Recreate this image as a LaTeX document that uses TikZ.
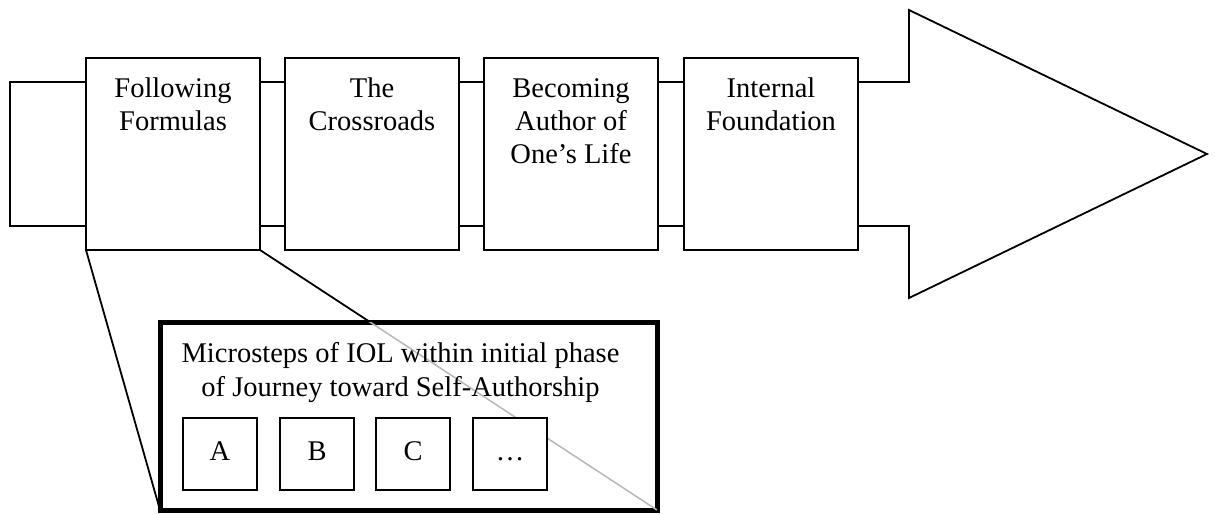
\documentclass[tikz,border=0pt]{standalone}
\usepackage{fontspec}
\setmainfont{Liberation Serif}
\begin{document}
\begin{tikzpicture}[x=1pt,y=-1pt,
  thin line/.style={line width=1.8pt},
  phase/.style={draw, thin line, fill=white, minimum width=174pt,
    minimum height=192pt, inner sep=0pt, outer sep=0pt, anchor=north west},
  phase text/.style={font=\fontsize{28.5}{33}\selectfont, align=center,
    inner sep=0pt, anchor=north},
  zoombox/.style={draw, line width=5pt, fill=white, minimum width=497pt,
    minimum height=188pt, inner sep=0pt, outer sep=0pt, anchor=north west},
  title text/.style={font=\fontsize{28.5}{34}\selectfont, align=center,
    inner sep=0pt, anchor=north},
  microbox/.style={draw, thin line, fill=white, minimum width=74pt,
    minimum height=72pt, inner sep=0pt, outer sep=0pt, anchor=north west,
    font=\fontsize{28.5}{34}\selectfont, text height=19pt, text depth=7pt},
  magnify/.style={thin line, black},
  magnify inner/.style={line width=1.5pt, black!28}
]
\useasboundingbox (0,0) rectangle (1215,514);

% the journey arrow
\draw[thin line, fill=white] (10,82) -- (909,82) -- (909,10) -- (1207,154)
  -- (909,298) -- (909,226) -- (10,226) -- cycle;

% the four phases along the arrow
\node[phase] (b1) at (86,58) {};
\node[phase] (b2) at (285,58) {};
\node[phase] (b3) at (484,58) {};
\node[phase] (b4) at (684,58) {};

\node[phase text] (t1) at ([yshift=-15.9pt]b1.north) {\strut Following\\Formulas};
\node[phase text] (t2) at ([yshift=-15.9pt]b2.north) {\strut The\\Crossroads};
\node[phase text] (t3) at ([yshift=-15.9pt]b3.north) {\strut Becoming\\Author of\\One’s Life};
\node[phase text] (t4) at ([yshift=-15.9pt]b4.north) {\strut Internal\\Foundation};

% magnified view of the first phase
\draw[magnify] (b1.south west) -- (160,510) coordinate (zsw);
\draw[magnify] (b1.south east) -- (657,510) coordinate (zse);
\node[zoombox] (zoom) at (160,322) {};
\begin{scope}
  \clip (zoom.north west) rectangle (zoom.south east);
  \draw[magnify inner] (b1.south east) -- (zoom.south east);
\end{scope}

\node[title text] (title) at (400.5,338.2)
  {\strut Microsteps of IOL within initial phase\\of Journey toward Self-Authorship};

\node[microbox] (sA) at (183,418) {A};
\node[microbox] (sB) at (280,418) {B};
\node[microbox] (sC) at (376,418) {C};
\node[microbox] (sD) at (473,418) {…};
\end{tikzpicture}
\end{document}
